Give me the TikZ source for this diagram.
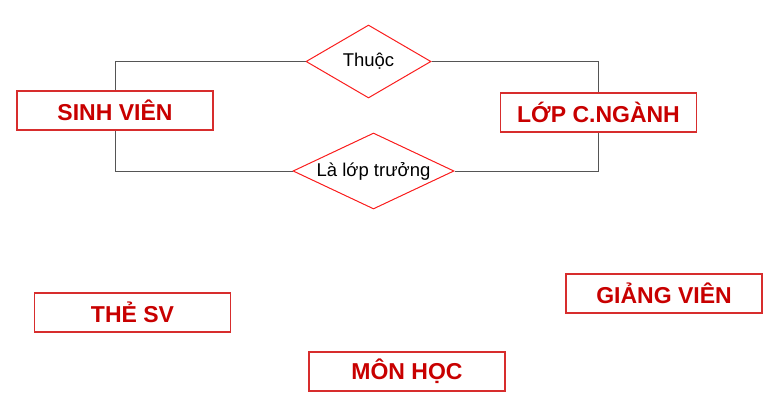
\documentclass[tikz,border=0pt]{standalone}
\usepackage{fontspec}
\setmainfont{Liberation Sans}
\usetikzlibrary{shapes.geometric}
\definecolor{entred}{RGB}{200,0,0}
\definecolor{entborder}{RGB}{215,45,45}
\definecolor{relred}{RGB}{250,30,30}
\definecolor{linegray}{RGB}{85,85,85}
\begin{document}
\begin{tikzpicture}[x=1pt,y=-1pt,
  entity/.style={draw=entborder,line width=1.2pt,fill=white,text=entred,
    minimum width=196pt,minimum height=39pt,inner sep=0pt,
    font=\fontsize{23}{27}\selectfont\bfseries},
  relation/.style={diamond,draw=relred,line width=1pt,fill=white,aspect=2.1,
    inner sep=0pt,font=\fontsize{18.5}{22}\selectfont},
  link/.style={draw=linegray,line width=1pt}]
\useasboundingbox (0,0) rectangle (777,415);
% relationships
\node [relation,minimum width=125pt,minimum height=73pt] (thuoc) at (368.5,61.5) {Thuộc};
\node [relation,minimum width=161pt,minimum height=76pt] (lt) at (373.5,171) {Là lớp trưởng};
% entities
\node [entity] (sv) at (115,110.5) {SINH VIÊN};
\node [entity] (lop) at (598.5,112.5) {LỚP C.NGÀNH};
\node [entity] (thesv) at (132.5,312.5) {THẺ SV};
\node [entity] (monhoc) at (407,371.5) {MÔN HỌC};
\node [entity] (gv) at (664,293.5) {GIẢNG VIÊN};
% links
\draw [link] (sv.north) |- (thuoc.west);
\draw [link] (thuoc.east) -| (lop.north);
\draw [link] (sv.south) |- (lt.west);
\draw [link] (lt.east) -| (lop.south);
\end{tikzpicture}
\end{document}
